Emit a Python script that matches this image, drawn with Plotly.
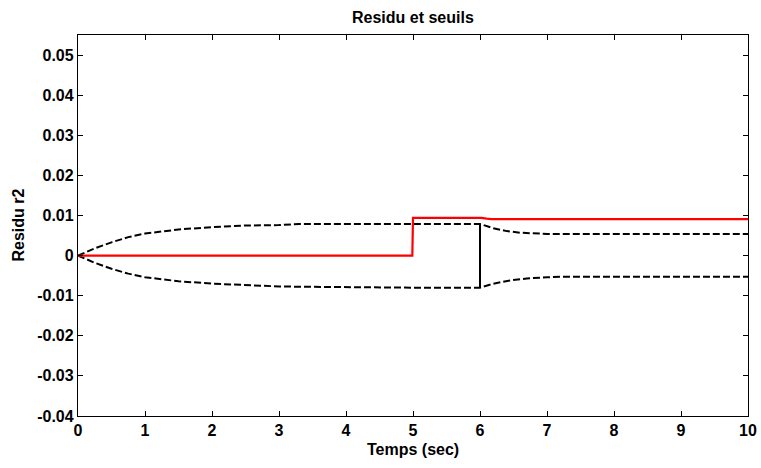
import plotly.graph_objects as go

# Residual r2
t_res = [0, 4.99, 5.0, 6.02, 6.1, 6.17, 10]
r2 = [0, 0, 0.0094, 0.0094, 0.0092, 0.0091, 0.0091]

# Upper threshold
t_up = [0, 0.25, 0.5, 0.75, 1.0, 1.5, 2.0, 2.5, 3.0, 3.2, 3.3, 4, 5, 6.0, 6.2, 6.4, 6.6, 6.8, 7.0, 8, 9, 10]
upper = [0, 0.0018, 0.0033, 0.0046, 0.0055, 0.0065, 0.0071, 0.0075, 0.0076, 0.0077, 0.0079, 0.0079, 0.0079,
         0.0079, 0.0068, 0.0061, 0.0057, 0.0055, 0.0054, 0.0054, 0.0054, 0.0054]

# Lower threshold
t_low = [0, 0.25, 0.5, 0.75, 1.0, 1.5, 2.0, 2.5, 3.0, 3.5, 4.5, 5, 6.0, 6.2, 6.45, 6.7, 7.0, 7.2, 8, 9, 10]
lower = [0, -0.0018, -0.0033, -0.0045, -0.0054, -0.0064, -0.0070, -0.0074, -0.0077, -0.0078, -0.0080, -0.0080,
         -0.0080, -0.0070, -0.0062, -0.0057, -0.0054, -0.0053, -0.0053, -0.0053, -0.0053]

# Vertical jump line at t=6
t_jump = [6, 6]
y_jump = [-0.0080, 0.0079]

x_ticks = list(range(0, 11))
y_ticks = [-0.04, -0.03, -0.02, -0.01, 0, 0.01, 0.02, 0.03, 0.04, 0.05]
y_ticktext = ["-0.04", "-0.03", "-0.02", "-0.01", "0", "0.01", "0.02", "0.03", "0.04", "0.05"]

W, H = 761, 468
L, R, T, B = 78, 13, 35, 52
pw, ph = W - L - R, H - T - B

FAM = "Liberation Sans, Arial, sans-serif"
FS = 16

fig = go.Figure()
dash = "7px,3px"
fig.add_trace(go.Scatter(x=t_up, y=upper, mode="lines", line=dict(color="black", width=2, dash=dash), showlegend=False))
fig.add_trace(go.Scatter(x=t_low, y=lower, mode="lines", line=dict(color="black", width=2, dash=dash), showlegend=False))
fig.add_trace(go.Scatter(x=t_jump, y=y_jump, mode="lines", line=dict(color="black", width=2), showlegend=False))
fig.add_trace(go.Scatter(x=t_res, y=r2, mode="lines", line=dict(color="red", width=2.2), showlegend=False))

axis_common = dict(showgrid=False, zeroline=False, showline=True, linecolor="black", linewidth=1.3,
                   mirror="ticks", ticks="inside", ticklen=5, tickcolor="black", tickwidth=1,
                   automargin=False,
                   tickfont=dict(family=FAM, size=FS, color="black"))

fig.update_layout(
    width=W, height=H,
    margin=dict(l=L, r=R, t=T, b=B),
    paper_bgcolor="white", plot_bgcolor="white",
    font=dict(family=FAM, size=FS, color="black"),
    xaxis=dict(range=[0, 10], tickvals=x_ticks, ticktext=[f"<b>{i}</b>" for i in x_ticks], **axis_common),
    yaxis=dict(range=[-0.04, 0.055], tickvals=y_ticks, ticktext=["<b>%s</b>" % s for s in y_ticktext], **axis_common),
    annotations=[
        dict(text="<b>Residu et seuils</b>", xref="paper", yref="paper", x=0.5, y=1 + (T - 17) / ph,
             xanchor="center", yanchor="middle", showarrow=False, font=dict(family=FAM, size=FS, color="black")),
        dict(text="<b>Temps (sec)</b>", xref="paper", yref="paper", x=0.5, y=-(450 - (T + ph)) / ph,
             xanchor="center", yanchor="middle", showarrow=False, font=dict(family=FAM, size=FS, color="black")),
        dict(text="<b>Residu r2</b>", xref="paper", yref="paper", x=-(L - 18) / pw, y=0.5, textangle=-90,
             xanchor="center", yanchor="middle", showarrow=False, font=dict(family=FAM, size=FS, color="black")),
    ],
)

fig.write_html("out.html", config={"displayModeBar": False},
               post_script="document.body.style.margin='0';document.body.style.overflow='hidden';")
